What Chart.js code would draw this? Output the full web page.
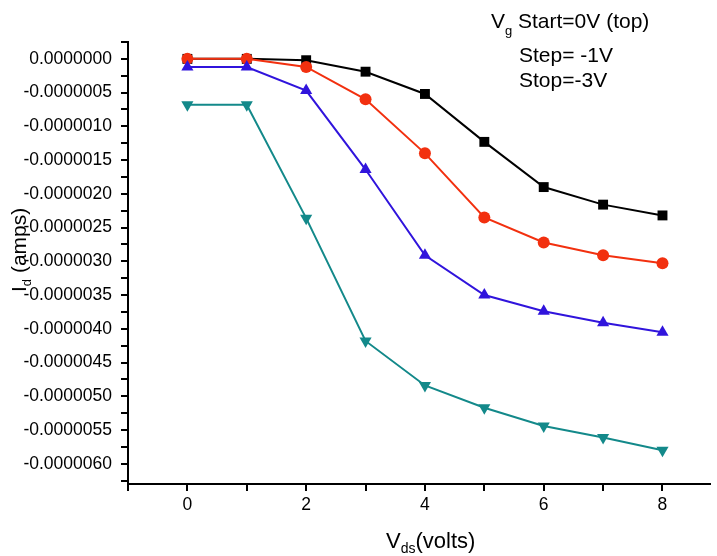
<!DOCTYPE html>
<html>
<head>
<meta charset="utf-8">
<script src="https://cdn.jsdelivr.net/npm/chart.js@4"></script>
<style>
  html, body { margin: 0; padding: 0; background: #fff; }
  #wrap { width: 717px; height: 556px; position: relative; }
</style>
</head>
<body>
<div id="wrap"><canvas id="myChart"></canvas></div>
<script>
// drain voltage steps (volts)
const vds = [0, 1, 2, 3, 4, 5, 6, 7, 8];

// drain current (amps), one array per gate voltage
const idVg0 = [0, 0, -0.02e-6, -0.19e-6, -0.52e-6, -1.23e-6, -1.9e-6, -2.16e-6, -2.32e-6];
const idVg1 = [0, 0, -0.12e-6, -0.6e-6, -1.4e-6, -2.35e-6, -2.72e-6, -2.91e-6, -3.03e-6];
const idVg2 = [-0.12e-6, -0.12e-6, -0.47e-6, -1.64e-6, -2.91e-6, -3.5e-6, -3.74e-6, -3.91e-6, -4.05e-6];
const idVg3 = [-0.68e-6, -0.68e-6, -2.36e-6, -4.18e-6, -4.84e-6, -5.17e-6, -5.44e-6, -5.61e-6, -5.8e-6];

const xTicks = [-1, 0, 1, 2, 3, 4, 5, 6, 7, 8];
const xLabels = [0, 2, 4, 6, 8];
const yTicks = [];
for (let i = 1; i >= -25; i--) yTicks.push(i * 0.25e-6);

const font = "'Liberation Sans', Arial, sans-serif";

const toPoints = (ys) => vds.map((x, i) => ({ x: x, y: ys[i] }));

// draws the axis titles and the gate voltage note (they use subscripts)
const textPlugin = {
  id: "texts",
  afterDraw(chart) {
    const c = chart.ctx;
    c.save();
    c.fillStyle = "#000";
    c.textBaseline = "alphabetic";
    c.textAlign = "left";

    // x title: V_ds(volts)
    let x = 386;
    c.font = "22px " + font;
    c.fillText("V", x, 548);
    x += c.measureText("V").width;
    c.font = "14px " + font;
    c.fillText("ds", x, 553);
    x += c.measureText("ds").width;
    c.font = "22px " + font;
    c.fillText("(volts)", x, 548);

    // y title: I_d (amps), rotated
    c.translate(26, 292);
    c.rotate(-Math.PI / 2);
    x = 0;
    c.font = "21px " + font;
    c.fillText("I", x, 0);
    x += c.measureText("I").width;
    c.font = "13px " + font;
    c.fillText("d", x, 5);
    x += c.measureText("d").width;
    c.font = "21px " + font;
    c.fillText(" (amps)", x, 0);
    c.setTransform(1, 0, 0, 1, 0, 0);

    // note at top right
    c.font = "21px " + font;
    c.fillText("V", 491, 28);
    c.font = "13px " + font;
    c.fillText("g", 505, 35);
    c.font = "21px " + font;
    c.fillText("Start=0V (top)", 518, 28);
    c.fillText("Step= -1V", 519, 62);
    c.fillText("Stop=-3V", 519, 87);
    c.restore();
  },
};

const ctx = document.getElementById("myChart").getContext("2d");

const series = [
  { data: idVg0, color: "#000000", style: "rect", r: 7, rot: 0, order: 4 },
  { data: idVg1, color: "#f2300f", style: "circle", r: 6, rot: 0, order: 3 },
  { data: idVg2, color: "#3014dc", style: "triangle", r: 7, rot: 0, order: 2 },
  { data: idVg3, color: "#13898a", style: "triangle", r: 7, rot: 180, order: 1 },
];

const myChart = new Chart(ctx, {
  type: "line",
  data: {
    datasets: series.map((s) => ({
      data: toPoints(s.data),
      borderColor: s.color,
      backgroundColor: s.color,
      borderWidth: 2,
      pointStyle: s.style,
      pointRadius: s.r,
      pointRotation: s.rot,
      pointBorderWidth: 0,
      tension: 0,
      order: s.order,
    })),
  },
  options: {
    responsive: true,
    maintainAspectRatio: false,
    animation: false,
    layout: { padding: { left: 0, top: 42, right: 4, bottom: 0 } },
    plugins: {
      legend: { display: false },
      tooltip: { enabled: false },
    },
    scales: {
      x: {
        type: "linear",
        min: -1,
        max: 8.8,
        afterFit: (scale) => { scale.height = 72; },
        afterBuildTicks: (scale) => { scale.ticks = xTicks.map((v) => ({ value: v })); },
        border: { display: true, color: "#000", width: 2 },
        grid: { drawOnChartArea: false, drawTicks: true, tickLength: 7, color: "#000", lineWidth: 2 },
        ticks: {
          color: "#000",
          padding: 4,
          maxRotation: 0,
          autoSkip: false,
          font: { family: font, size: 17.5 },
          callback: (v) => (xLabels.includes(v) ? String(v) : ""),
        },
      },
      y: {
        type: "linear",
        min: -6.3e-6,
        max: 0.25e-6,
        afterFit: (scale) => { scale.width = 128; },
        afterBuildTicks: (scale) => { scale.ticks = yTicks.map((v) => ({ value: v })); },
        border: { display: true, color: "#000", width: 2 },
        grid: { drawOnChartArea: false, drawTicks: true, tickLength: 7, color: "#000", lineWidth: 2 },
        ticks: {
          color: "#000",
          padding: 9,
          autoSkip: false,
          font: { family: font, size: 17.5 },
          callback: (v) => {
            const n = Math.round(v / 0.25e-6);
            if (n % 2 !== 0 || n > 0) return "";
            return (n * 0.25e-6).toFixed(7);
          },
        },
      },
    },
  },
  plugins: [textPlugin],
});
</script>
</body>
</html>
